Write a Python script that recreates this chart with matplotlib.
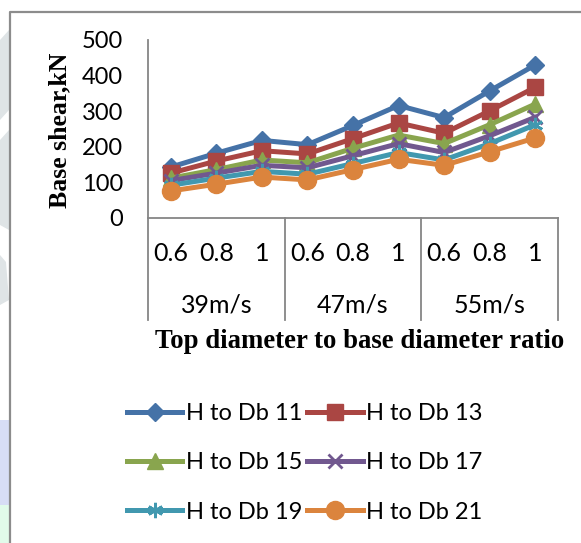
import matplotlib
matplotlib.use("Agg")
import matplotlib.pyplot as plt
from matplotlib.patches import Rectangle, Polygon
from matplotlib.lines import Line2D

W, H = 581, 543

ratios = ["0.6", "0.8", "1", "0.6", "0.8", "1", "0.6", "0.8", "1"]
speeds = ["39m/s", "47m/s", "55m/s"]

h_db_11 = [143, 182, 218, 206, 260, 316, 282, 357, 430]
h_db_13 = [126, 160, 189, 180, 223, 267, 238, 301, 367]
h_db_15 = [112, 136, 163, 155, 196, 233, 209, 262, 320]
h_db_17 = [105, 126, 148, 141, 175, 209, 184, 231, 283]
h_db_19 = [92, 112, 131, 123, 153, 184, 163, 209, 262]
h_db_21 = [76, 95, 115, 107, 136, 165, 148, 186, 225]

series = [
    ("H to Db 11", h_db_11, "#4572a7", "D", 9.5, 1),
    ("H to Db 13", h_db_13, "#aa4643", "s", 11, 1),
    ("H to Db 15", h_db_15, "#89a54e", "^", 11, 1),
    ("H to Db 17", h_db_17, "#71588f", "x", 10, 2),
    ("H to Db 19", h_db_19, "#4198af", (6, 2, 0), 11, 2),
    ("H to Db 21", h_db_21, "#db843d", "o", 13, 1),
]


def fx(px):
    return px / W


def fy(py):
    return 1 - py / H


fig = plt.figure(figsize=(W / 100, H / 100), dpi=100)

# faint watermark bits at the left edge + outer frame
fig.add_artist(Polygon([(fx(0), fy(40)), (fx(9), fy(30)), (fx(9), fy(110)), (fx(0), fy(120))],
                       closed=True, transform=fig.transFigure, color="#dfe4e6", lw=0))
fig.add_artist(Polygon([(fx(0), fy(140)), (fx(9), fy(130)), (fx(9), fy(230)), (fx(0), fy(225))],
                       closed=True, transform=fig.transFigure, color="#dfe4e6", lw=0))
fig.add_artist(Polygon([(fx(0), fy(255)), (fx(6), fy(262)), (fx(9), fy(300)), (fx(0), fy(305))],
                       closed=True, transform=fig.transFigure, color="#dfe4e6", lw=0))
fig.add_artist(Rectangle((fx(0), fy(505)), fx(9), 85 / H, transform=fig.transFigure,
                         color="#d7ddf5", lw=0))
fig.add_artist(Rectangle((fx(0), 0), fx(9), 38 / H, transform=fig.transFigure,
                         color="#e1fbea", lw=0))
fig.add_artist(Line2D([fx(9.5), fx(9.5), 1.0], [0, fy(11.5), fy(11.5)],
                      transform=fig.transFigure, color="#8c8c8c", lw=1.6))

ax = fig.add_axes([fx(148), fy(218), 410 / W, 178 / H])
x = list(range(len(ratios)))

for name, vals, col, mk, ms, mew in series:
    ax.plot(x, vals, color=col, lw=3.6, marker=mk, ms=ms, mfc=col, mec=col,
            mew=mew, label=name, solid_joinstyle="round", clip_on=False)

ax.set_xlim(-0.5, 8.5)
ax.set_ylim(0, 500)
ax.set_yticks(range(0, 501, 100))
ax.set_xticks([])
ax.tick_params(axis="y", length=0, pad=18, labelsize=17)
for lab in ax.get_yticklabels():
    lab.set_fontfamily("Lato")
for side in ("top", "right"):
    ax.spines[side].set_visible(False)
for side in ("left", "bottom"):
    ax.spines[side].set_color("#868686")
    ax.spines[side].set_linewidth(1.3)

# two-level category axis
tr = ax.get_xaxis_transform()
for i, r in enumerate(ratios):
    ax.text(i, -0.197, r, transform=tr, ha="center", va="center",
            fontsize=18, family="Lato")
for g, s in enumerate(speeds):
    ax.text(g * 3 + 1, -0.49, s, transform=tr, ha="center", va="center",
            fontsize=18, family="Lato")
for xd in (-0.5, 2.5, 5.5, 8.5):
    ax.add_line(Line2D([xd, xd], [0, -0.573], transform=tr, color="#868686",
                       lw=1.3, clip_on=False))

fig.text(fx(60), fy(130), "Base shear,kN", rotation=90, ha="center", va="center",
         fontsize=18.5, fontweight="bold", family="Liberation Serif")
fig.text(fx(360), fy(342), "Top diameter to base diameter ratio", ha="center",
         va="center", fontsize=19.3, fontweight="bold", family="Liberation Serif")

handles, labels = ax.get_legend_handles_labels()
order = [0, 2, 4, 1, 3, 5]
fig.legend([handles[i] for i in order], [labels[i] for i in order],
           loc="upper left", bbox_to_anchor=(fx(127), fy(403)), ncol=2,
           frameon=False, prop={"family": "Lato", "size": 17},
           handlelength=2.35, handletextpad=0.15, columnspacing=0.2,
           labelspacing=1.2, borderpad=0, borderaxespad=0)

plt.savefig("out.png", dpi=100)
